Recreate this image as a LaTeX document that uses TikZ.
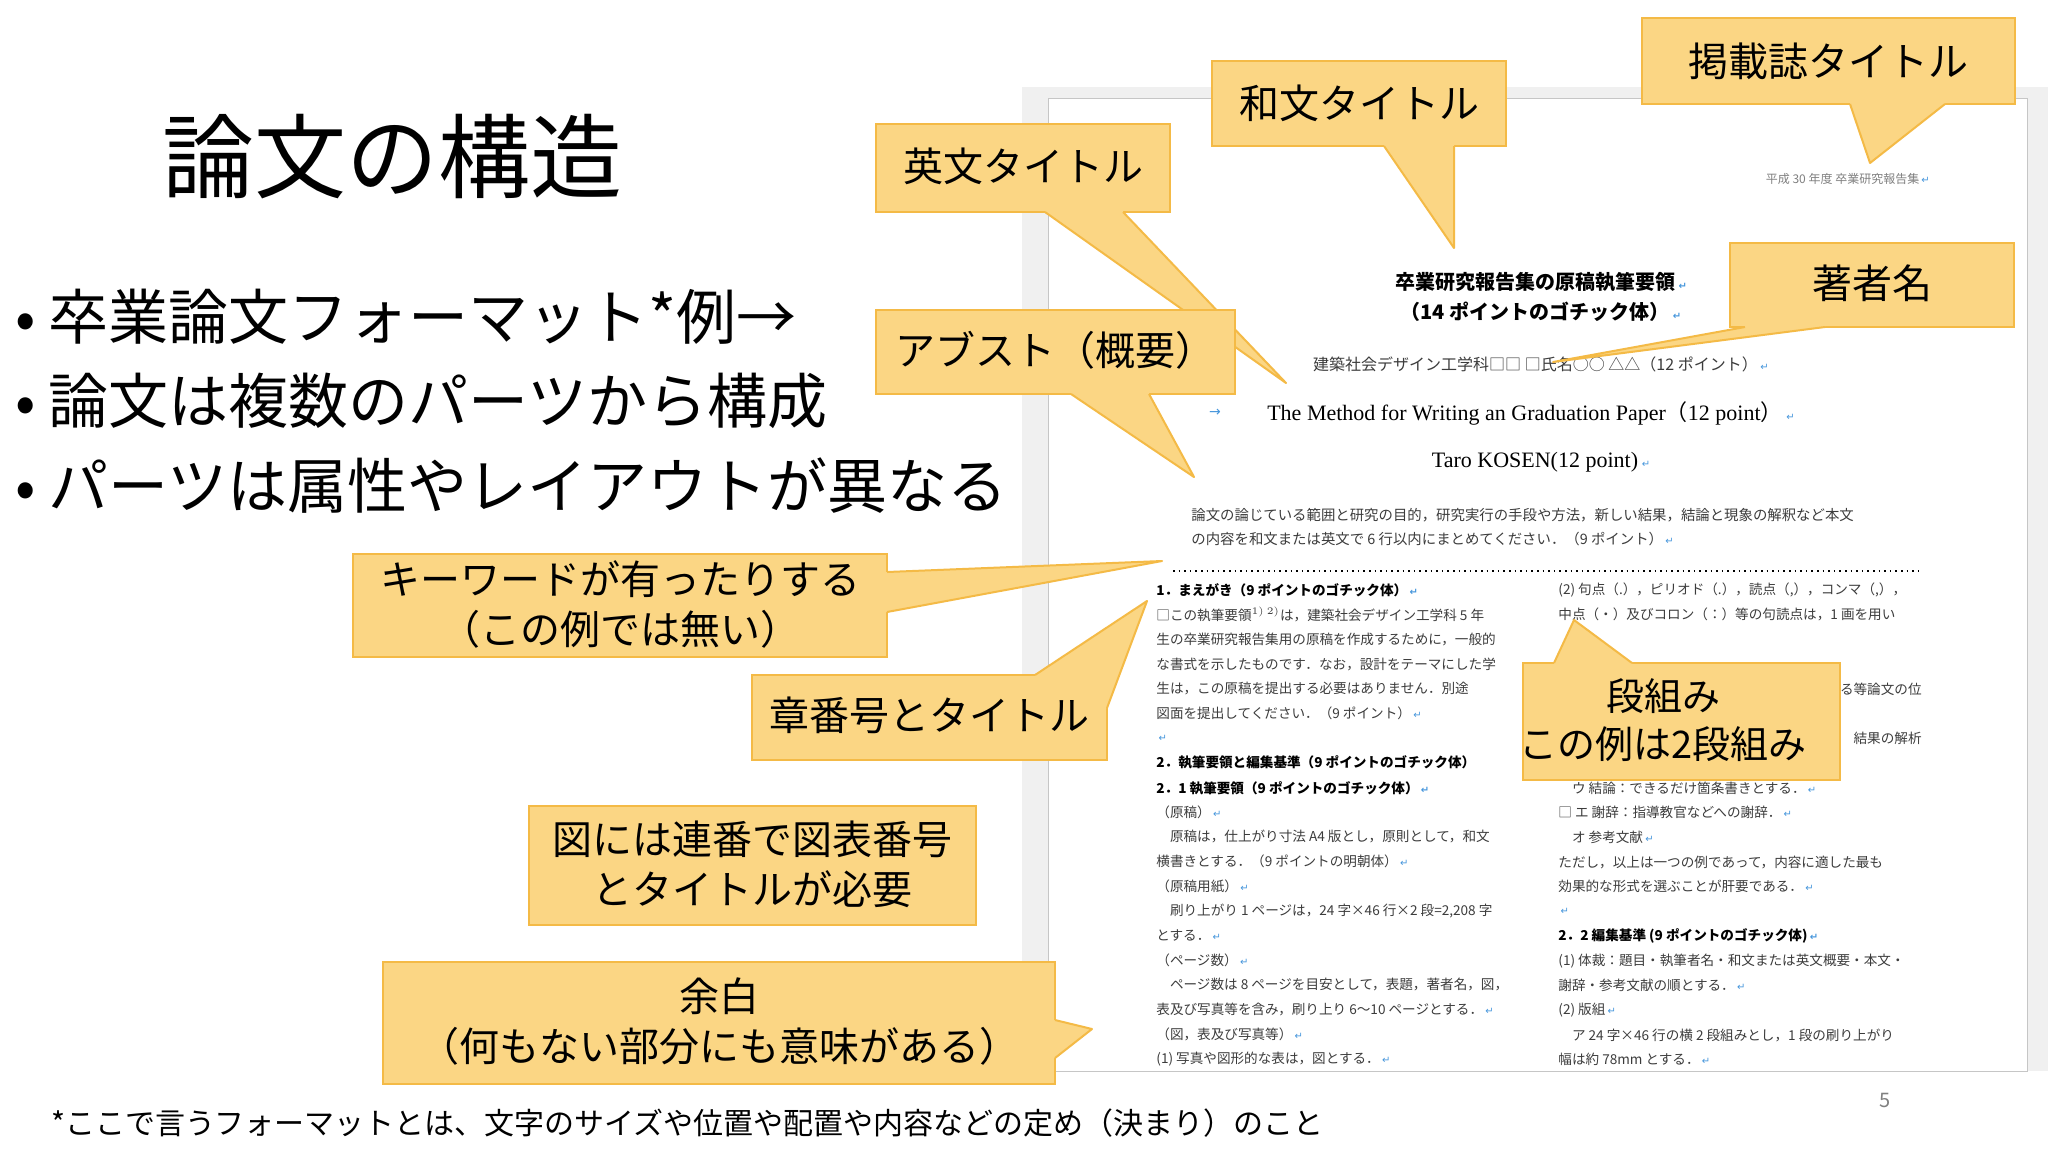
\documentclass[tikz,border=0pt]{standalone}
\usepackage{fontspec}
\setmainfont{Noto Sans CJK JP}
\newfontfamily\jp{Noto Sans CJK JP}
\newfontfamily\lat{Liberation Serif}
\newfontfamily\djv{DejaVu Sans}
\definecolor{cfill}{RGB}{251,214,132}
\definecolor{cedge}{RGB}{244,186,70}
\definecolor{ptext}{RGB}{60,60,60}
\definecolor{pblue}{RGB}{70,150,220}
\newcommand\rt{\,{\djv\color{pblue}\fontsize{5}{5}\selectfont ↵}}
\newcommand\wedgeout[5]{\fill[cfill] #1--#2--#3--#4--#5--cycle; \draw[cline] #2--#3--#4;}
\tikzset{
 cbox/.style={fill=cfill,draw=cedge,line width=1pt},
 cline/.style={draw=cedge,line width=1pt,line join=round},
 ctext/.style={font=\fontsize{20}{25}\selectfont,align=center,text=black},
 bul/.style={anchor=west,font=\fontsize{30}{32}\selectfont},
 pl/.style={anchor=west,inner sep=0pt,text=ptext,font=\fontsize{6.8}{7}\selectfont},
 plb/.style={pl,font=\fontsize{6.8}{7}\bfseries\selectfont,text=black},
}
\begin{document}
\begin{tikzpicture}[x=0.5pt,y=-0.5pt]
\useasboundingbox (0,0) rectangle (2048,1152);
\fill[white] (0,0) rectangle (2048,1152);
% paper
\fill[gray!12] (1022,87) rectangle (2048,1071);
\path[fill=white,draw=gray!45,line width=0.4pt] (1048,98) rectangle (2027,1071);
\node[pl,anchor=east,text=gray,font=\fontsize{6}{6}\selectfont] (hdr) at (1930,179) {平成 30 年度 卒業研究報告集\rt};
\node[font=\fontsize{10}{11}\bfseries\selectfont,inner sep=0pt] (tt1) at (1541,282) {卒業研究報告集の原稿執筆要領\rt};
\node[font=\fontsize{10}{11}\bfseries\selectfont,inner sep=0pt] (tt2) at (1541,312) {（14 ポイントのゴチック体）\rt};
\node[pl,anchor=center,font=\fontsize{8}{9}\selectfont] (aff) at (1541,364) {建築社会デザイン工学科□□ □氏名○○ △△（12 ポイント）\rt};
\node[inner sep=0pt,font=\lat\fontsize{11}{12}\selectfont] (etit) at (1531,413) {The Method for Writing an Graduation Paper{\jp（}12 point{\jp）}\rt};
\node[inner sep=0pt,text=pblue,font=\djv\fontsize{7}{8}\selectfont] (arr) at (1215,413) {→};
\node[inner sep=0pt,font=\lat\fontsize{11}{12}\selectfont] (auth) at (1541,462) {Taro KOSEN(12 point)\rt};
\node[pl,font=\fontsize{7.2}{8}\selectfont] (ab1) at (1191,515) {論文の論じている範囲と研究の目的，研究実行の手段や方法，新しい結果，結論と現象の解釈など本文};
\node[pl,font=\fontsize{7.2}{8}\selectfont] (ab2) at (1191,539) {の内容を和文または英文で 6 行以内にまとめてください．（9 ポイント）\rt};
\draw[dotted,line width=0.8pt] (1173,571) -- (1922,571);
\foreach \t [count=\i from 0] in {
 {□この執筆要領$^{1)\ 2)}$は，建築社会デザイン工学科 5 年},
 {生の卒業研究報告集用の原稿を作成するために，一般的},
 {な書式を示したものです．なお，設計をテーマにした学},
 {生は，この原稿を提出する必要はありません．別途},
 {図面を提出してください．（9 ポイント）\rt},
 {\rt}}
 \node[pl] (l\i) at (1156,{614.7+24.7*\i}) {\t};
\node[plb] (h1) at (1156,590) {1．まえがき（9 ポイントのゴチック体）\rt};
\node[plb] (h2) at (1156,762) {2．執筆要領と編集基準（9 ポイントのゴチック体）};
\node[plb] (h3) at (1156,788) {2．1 執筆要領（9 ポイントのゴチック体）\rt};
\foreach \t [count=\i from 0] in {
 {（原稿）\rt},
 {　原稿は，仕上がり寸法 A4 版とし，原則として，和文},
 {横書きとする．（9 ポイントの明朝体）\rt},
 {（原稿用紙）\rt},
 {　刷り上がり 1 ページは，24 字×46 行×2 段=2,208 字},
 {とする．\rt},
 {（ページ数）\rt},
 {　ページ数は 8 ページを目安として，表題，著者名，図，},
 {表及び写真等を含み，刷り上り 6～10 ページとする．\rt},
 {（図，表及び写真等）\rt},
 {(1) 写真や図形的な表は，図とする．\rt}}
 \node[pl] (m\i) at (1156,{812+24.7*\i}) {\t};
\node[pl] (r0) at (1558,590) {(2) 句点（.），ピリオド（.），読点（,），コンマ（,），};
\node[pl] (r1) at (1558,614.7) {中点（・）及びコロン（：）等の句読点は，1 画を用い};
\node[pl,anchor=east] (r4) at (1922,689) {る等論文の位};
\node[pl,anchor=east] (r6) at (1922,738) {結果の解析};
\foreach \t [count=\i from 0] in {
 {　ウ 結論：できるだけ箇条書きとする．\rt},
 {□ エ 謝辞：指導教官などへの謝辞．\rt},
 {　オ 参考文献\rt},
 {ただし，以上は一つの例であって，内容に適した最も},
 {効果的な形式を選ぶことが肝要である．\rt},
 {\rt}}
 \node[pl] (q\i) at (1558,{788+24.7*\i}) {\t};
\node[plb] (h4) at (1558,936) {2．2 編集基準 (9 ポイントのゴチック体)\rt};
\foreach \t [count=\i from 0] in {
 {(1) 体裁：題目・執筆者名・和文または英文概要・本文・},
 {謝辞・参考文献の順とする．\rt},
 {(2) 版組\rt},
 {　ア 24 字×46 行の横 2 段組みとし，1 段の刷り上がり},
 {幅は約 78mm とする．\rt}}
 \node[pl] (s\i) at (1558,{961+24.7*\i}) {\t};
\node[text=gray,font=\fontsize{10}{10}\selectfont] (pg) at (1885,1100) {5};
% title and bullets
\node[font=\fontsize{46}{50}\selectfont] (title) at (392,157) {論文の構造};
\node[bul] (b1) at (8,317) {• 卒業論文フォーマット*例→};
\node[bul] (b2) at (8,401) {• 論文は複数のパーツから構成};
\node[bul] (b3) at (8,486) {• パーツは属性やレイアウトが異なる};
\node[anchor=west,font=\fontsize{15}{16}\selectfont] (foot) at (44,1123) {*ここで言うフォーマットとは、文字のサイズや位置や配置や内容などの定め（決まり）のこと};
% callouts
\path[cbox] (1642,18) rectangle (2015,104);
\wedgeout{(1850,96)}{(1850,104)}{(1870,163)}{(1945,104)}{(1945,96)}
\node[ctext] (c1) at (1828,61) {掲載誌タイトル};
\path[cbox] (1212,61) rectangle (1506,146);
\wedgeout{(1384,138)}{(1384,146)}{(1454,248)}{(1454,146)}{(1454,138)}
\node[ctext] (c2) at (1359,103) {和文タイトル};
\path[cbox] (876,124) rectangle (1170,212);
\wedgeout{(1045,204)}{(1045,212)}{(1286,383)}{(1123,212)}{(1123,204)}
\node[ctext] (c3) at (1023,166) {英文タイトル};
\path[cbox] (1730,243) rectangle (2014,327);
\wedgeout{(1745,319)}{(1745,327)}{(1553,362)}{(1825,327)}{(1825,319)}
\node[ctext] (c4) at (1872,283) {著者名};
\path[cbox] (876,310) rectangle (1235,394);
\wedgeout{(1071,386)}{(1071,394)}{(1194,477)}{(1149,394)}{(1149,386)}
\node[ctext] (c5) at (1055,350) {アブスト（概要）};
\path[cbox] (353,554) rectangle (887,657);
\wedgeout{(879,572)}{(887,572)}{(1162,561)}{(887,612)}{(879,612)}
\node[ctext] (c6) at (620,604) {キーワードが有ったりする\\（この例では無い）};
\path[cbox] (752,675) rectangle (1107,760);
\wedgeout{(1035,685)}{(1035,675)}{(1147,601)}{(1107,708)}{(1097,708)}
\node[ctext] (c7) at (929,715) {章番号とタイトル};
\path[cbox] (529,806) rectangle (976,925);
\node[ctext] (c8) at (752,864) {図には連番で図表番号\\とタイトルが必要};
\path[cbox] (383,962) rectangle (1055,1084);
\wedgeout{(1047,1020)}{(1055,1020)}{(1092,1029)}{(1055,1058)}{(1047,1058)}
\node[ctext] (c9) at (719,1022) {余白\\（何もない部分にも意味がある）};
\path[cbox] (1523,663) rectangle (1840,780);
\wedgeout{(1554,671)}{(1554,663)}{(1574,620)}{(1632,663)}{(1632,671)}
\node[ctext,font=\fontsize{19}{24}\selectfont] (c10) at (1663,720) {段組み\\この例は2段組み};
\end{tikzpicture}
\end{document}
